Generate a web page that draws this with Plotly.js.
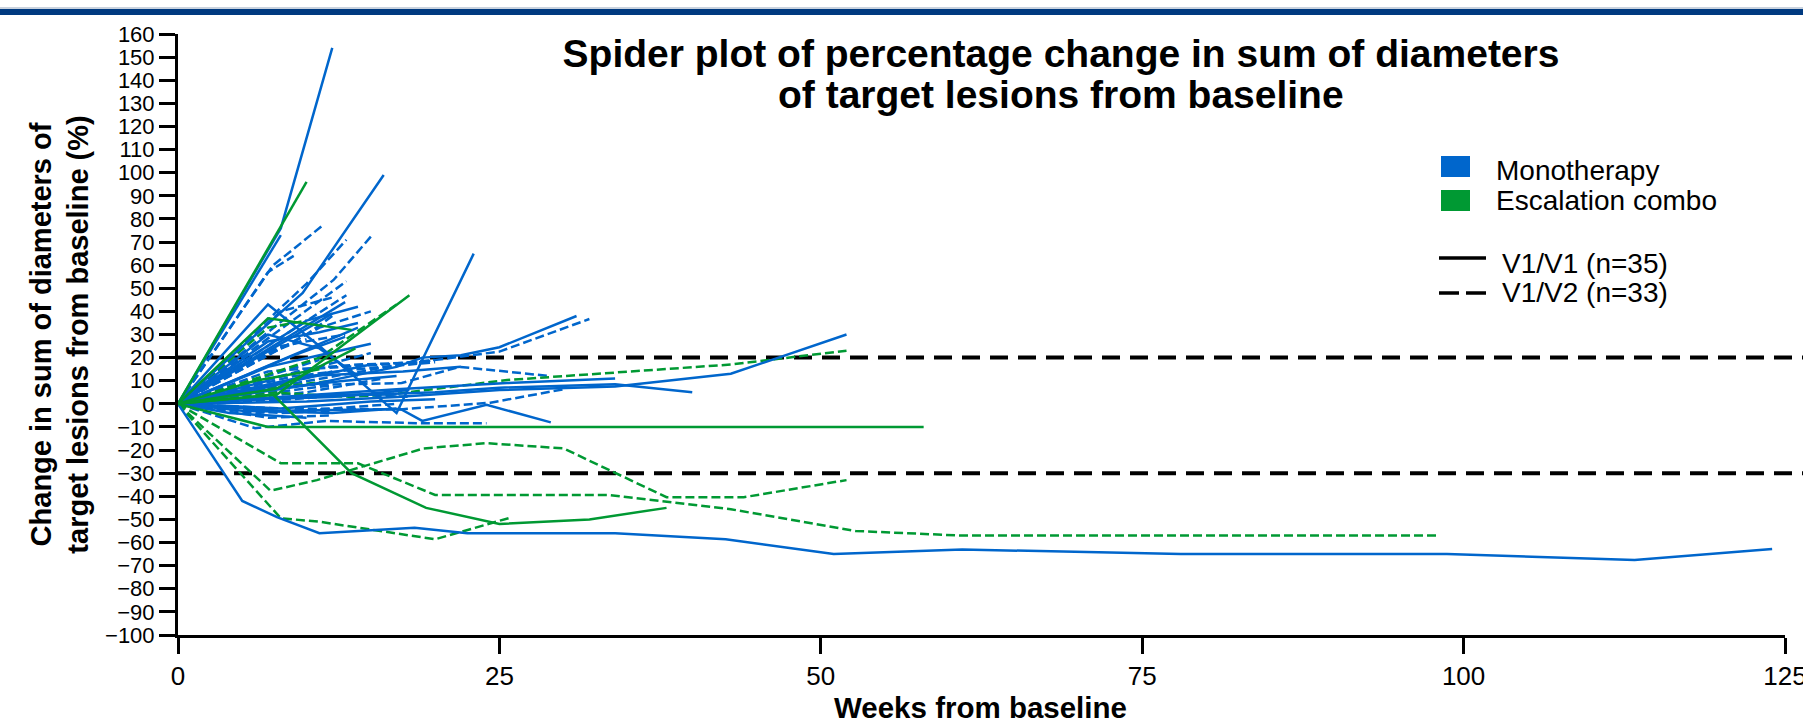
<!DOCTYPE html>
<html><head><meta charset="utf-8">
<script src="https://cdn.plot.ly/plotly-3.0.1.min.js"></script>
<style>html,body{margin:0;padding:0;background:#fff;overflow:hidden}#chart{width:1803px;height:719px}</style>
</head><body><div id="chart"></div>
<script>
// ---- data: weeks from baseline and % change, one inner list per patient ----
const monoSolidWeeks = [
  [0,8,12],[0,8],[0,9.7,16],[0,7,11,17,23],[0,13],[0,14],
  [0,10,17,19,22,25,31],[0,10,17,25,34,43,52],[0,8,17,25.6,34],[0,10,20,25,34,40],
  [0,8,17.3,19,24,29],
  [0,5,7.7,11,18.4,22.5,34,42.6,51,61,78,98.7,113.3,124],
  [0,9,12],[0,9,13],[0,7,11,15],[0,6,12],[0,6,12,18],[0,8,15,20],[0,5,12,17],
  [0,9,15],[0,7,11,14],[0,10,14],[0,8,13,17],[0,10,17.5,22],[0,12,17],[0,7],
  [0,7,11,14],[0,4,10]
];
const monoSolidValues = [
  [0,76,154],[0,73],[0,48,99],[0,43,25,-4,65],[0,44],[0,33],
  [0,8,16,20,21,24.5,38],[0,1,3,6,7.5,13,30],[0,3,6.3,9,11],[0,3,5,7,8.5,5],
  [0,-3,-2.2,-7.4,-0.4,-8],
  [0,-42,-49,-56,-53.6,-56,-56,-58.6,-65,-63,-65,-65,-67.5,-62.8],
  [0,29,39],[0,21,29],[0,16,21,26],[0,6,14],[0,2,3,6],[0,-2,1,2],[0,-3,-4,-2],
  [0,10,17],[0,27,31,35],[0,36,42],[0,7,10,12],[0,12,14,16],[0,4,4],[0,10],
  [0,30,24,12],[0,-4,-6]
];
const comboSolidWeeks = [
  [0,10],[0,7,13.5],[0,7.6,13.8],[0,7.7,18],[0,7,58],[0,7.4,13.5,19.3,25,32,38],[0,6,11]
];
const comboSolidValues = [
  [0,96],[0,37,32],[0,6.5,24],[0,4,47],[0,-10,-10],[0,4,-30,-45,-52,-50,-45],[0,10,15]
];
const monoDashWeeks = [
  [0,7.4,9,11.2],[0,12.1,15.1],[0,10,13.1],[0,13.1],[0,13.1],[0,7,9],
  [0,10,17.3,25,32],[0,9,17.4,21.9,29],[0,6,11.5,19,24],[0,15],[0,10,12],[0,8,13],
  [0,9,14,20],[0,8,17.3,24.3,30],[0,6,12,17],[0,7,12],[0,10,16],[0,11],[0,12],
  [0,7,14,19],[0,8,12],[0,6,10],[0,9,13,18],[0,8,12],[0,10,16,20],[0,11,15]
];
const monoDashValues = [
  [0,60,67,77],[0,53.6,73],[0,52,71],[0,53],[0,47],[0,57,64],
  [0,10,17,22.6,36.7],[0,8,9,16,12],[0,-10.5,-7.4,-8.4,-8.4],[0,22],[0,30,38],[0,25,30],
  [0,12,15,18],[0,-2,-2.4,0.5,6.3],[0,-4,-2,0],[0,-6,-5],[0,5,11],[0,19],[0,8],
  [0,14,17,18],[0,40,46],[0,20,28],[0,2,4,3],[0,-4,-3],[0,15,17,19],[0,33,40]
];
const comboDashWeeks = [
  [0,7,13.5,17.3,25.6,43,52],
  [0,7.2,10.8,19.1,24,30,38,44,52],
  [0,8,14,20,33.5,43,52.7,61,98],
  [0,8,11,20,26],[0,11,17],[0,7,10],[0,6,12]
];
const comboDashValues = [
  [0,5,3,4.6,10.3,17,23],
  [0,-37.6,-33,-19.3,-17,-19.3,-40.4,-40.4,-33],
  [0,-25.7,-25.7,-39.4,-39.4,-45.6,-55,-57,-57],
  [0,-49.5,-51,-58.6,-49],[0,20,43],[0,33,36],[0,6,10]
];
const xTicks = [0,25,50,75,100,125];
const refLevels = [20,-30];
const groupNames = ['Monotherapy','Escalation combo'];
const cohortNames = ['V1/V1 (n=35)','V1/V2 (n=33)'];
const titleLines = ['Spider plot of percentage change in sum of diameters', 'of target lesions from baseline'];
const xTitle = 'Weeks from baseline';
const yTitle = 'Change in sum of diameters of<br>target lesions from baseline (%)';

const BLUE = '#0066cc', GREEN = '#009933';
const FONT = 'Liberation Sans, Arial, sans-serif';
const traces = [];
function addGroup(ws, vs, color, dash) {
  ws.forEach((w, i) => traces.push({
    type: 'scatter', mode: 'lines', x: w, y: vs[i],
    line: {color: color, width: 2.5, dash: dash},
    showlegend: false, hoverinfo: 'skip'
  }));
}
addGroup(monoDashWeeks, monoDashValues, BLUE, '9px,4px');
addGroup(comboDashWeeks, comboDashValues, GREEN, '9px,4px');
addGroup(monoSolidWeeks, monoSolidValues, BLUE, 'solid');
addGroup(comboSolidWeeks, comboSolidValues, GREEN, 'solid');

const L = 178, R = 1785, T = 34, B = 635;
const px = x => (x - L) / (R - L);
const py = y => (B - y) / (B - T);

const shapes = [
  {type:'rect', xref:'paper', yref:'paper', x0:px(0), x1:px(1803), y0:py(9), y1:py(7), fillcolor:'#c9d2de', line:{width:0}},
  {type:'rect', xref:'paper', yref:'paper', x0:px(0), x1:px(1803), y0:py(15), y1:py(9), fillcolor:'#003a80', line:{width:0}},
  // legend keys
  {type:'rect', xref:'paper', yref:'paper', x0:px(1441), x1:px(1470), y0:py(177), y1:py(156), fillcolor:BLUE, line:{width:0}},
  {type:'rect', xref:'paper', yref:'paper', x0:px(1441), x1:px(1470), y0:py(211), y1:py(190), fillcolor:GREEN, line:{width:0}},
  {type:'line', xref:'paper', yref:'paper', x0:px(1439), x1:px(1486), y0:py(258), y1:py(258), line:{color:'black', width:3.5}},
  {type:'line', xref:'paper', yref:'paper', x0:px(1439), x1:px(1486), y0:py(293), y1:py(293), line:{color:'black', width:3.5, dash:'20px,7px'}}
];
refLevels.forEach(v => shapes.push({type:'line', xref:'paper', yref:'y', x0:0, x1:px(1803), y0:v, y1:v, layer:'below',
  line:{color:'black', width:4, dash:'18px,10px'}}));

const legFont = {family:FONT, size:28, color:'#000'};
const annotations = [
  {text: '<b>' + titleLines[1] + '</b>', xref:'paper', yref:'paper', x:px(1061), y:py(94), xanchor:'center', yanchor:'middle', showarrow:false, font:{family:FONT, size:39, color:'#000'}},
  {text: '<b>' + xTitle + '</b>', xref:'paper', yref:'paper', x:px(980), y:py(708), xanchor:'center', yanchor:'middle', showarrow:false, font:{family:FONT, size:29.5, color:'#000'}},
  {text: groupNames[0], xref:'paper', yref:'paper', x:px(1494), y:py(170), xanchor:'left', yanchor:'middle', showarrow:false, font:legFont},
  {text: groupNames[1], xref:'paper', yref:'paper', x:px(1494), y:py(200), xanchor:'left', yanchor:'middle', showarrow:false, font:legFont},
  {text: cohortNames[0], xref:'paper', yref:'paper', x:px(1500), y:py(263), xanchor:'left', yanchor:'middle', showarrow:false, font:legFont},
  {text: cohortNames[1], xref:'paper', yref:'paper', x:px(1500), y:py(293), xanchor:'left', yanchor:'middle', showarrow:false, font:legFont}
];

const axisCommon = {
  showline: true, linecolor: '#000', linewidth: 3, ticks: 'outside', ticklen: 16, tickwidth: 3, tickcolor: '#000',
  showgrid: false, zeroline: false, fixedrange: true
};
const layout = {
  width: 1803, height: 719,
  margin: {l: L, r: 1803 - R, t: T, b: 719 - B},
  paper_bgcolor: '#fff', plot_bgcolor: '#fff',
  font: {family: FONT, color: '#000'},
  showlegend: false,
  title: {
    text: '<b>' + titleLines[0] + '</b>',
    font: {family: FONT, size: 39, color: '#000'},
    xref: 'paper', x: px(1061), xanchor: 'center',
    yref: 'container', y: (719 - 53) / 719, yanchor: 'middle'
  },
  xaxis: Object.assign({}, axisCommon, {
    range: [0, 125], tickmode: 'array', tickvals: xTicks, ticktext: xTicks.map(String),
    ticklabeloverflow: 'allow',
    tickfont: {family: FONT, size: 26, color: '#000'}
  }),
  yaxis: Object.assign({}, axisCommon, {
    range: [-100, 160], tick0: 0, dtick: 10,
    tickfont: {family: FONT, size: 22, color: '#000'},
    title: {text: '<b>' + yTitle + '</b>', font: {family: FONT, size: 29, color: '#000'}, standoff: 8}
  }),
  shapes: shapes,
  annotations: annotations
};
Plotly.newPlot('chart', traces, layout, {staticPlot: true, displayModeBar: false});
</script>
</body></html>
